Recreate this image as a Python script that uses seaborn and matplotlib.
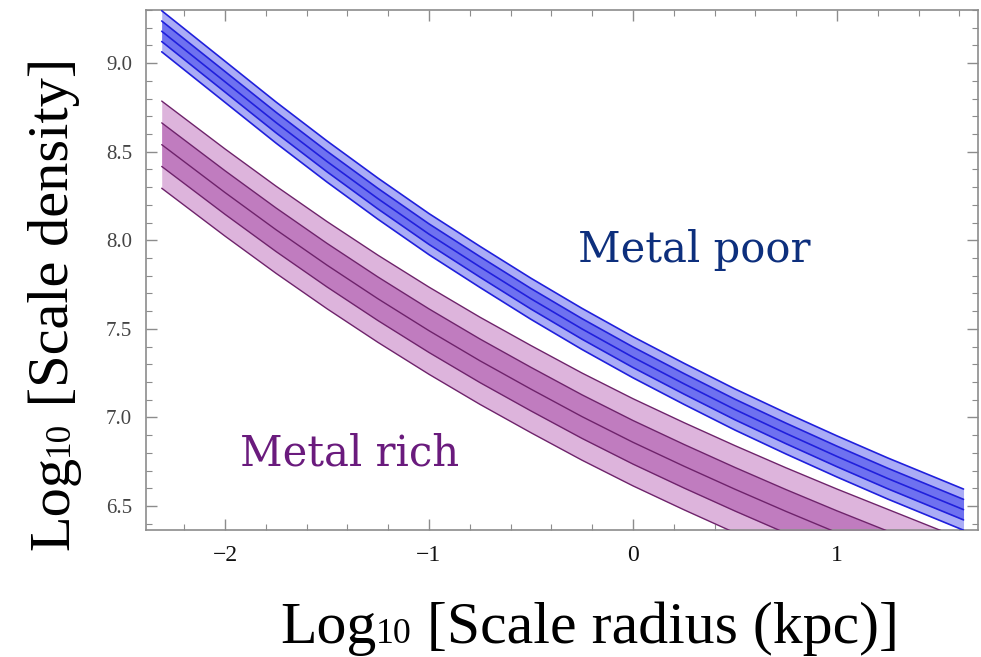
import numpy as np
import pandas as pd
import matplotlib
matplotlib.use("Agg")
import matplotlib.pyplot as plt
import seaborn as sns
from matplotlib.ticker import MultipleLocator

# log10 scale radius (kpc) sample points
log_radius = [-2.31, -2.0, -1.75, -1.5, -1.25, -1.0, -0.75, -0.5, -0.25,
              0.0, 0.25, 0.5, 0.75, 1.0, 1.25, 1.62]

# best-fit log10 scale density for each population
metal_poor_mid = [9.18, 8.895, 8.665, 8.445, 8.235, 8.035, 7.85, 7.67, 7.50,
                  7.34, 7.19, 7.045, 6.91, 6.78, 6.655, 6.48]
metal_rich_mid = [8.54, 8.27, 8.06, 7.86, 7.67, 7.49, 7.32, 7.16, 7.005,
                  6.86, 6.725, 6.595, 6.47, 6.35, 6.235, 6.065]

# 1-sigma widths of the relations (bands drawn at 1 and 2 sigma)
metal_poor_sigma = 0.058
metal_rich_sigma = 0.123

x_ticks = [-2, -1, 0, 1]
y_ticks = [6.5, 7.0, 7.5, 8.0, 8.5, 9.0]

sns.set_theme(style="ticks")
plt.rcParams["font.family"] = ["Liberation Serif", "DejaVu Serif"]
plt.rcParams["axes.grid"] = False

W, H = 981, 657
fig = plt.figure(figsize=(W / 100, H / 100), dpi=100)
ax = fig.add_axes([146 / W, 1 - 530 / H, (978 - 146) / W, (530 - 10) / H])

populations = [
    (metal_poor_mid, metal_poor_sigma, "#aaacf6", "#6e71f0", "#2020dc", 1.2),
    (metal_rich_mid, metal_rich_sigma, "#ddb4dc", "#c07cbf", "#6e236b", 1.0),
]

x = np.array(log_radius)
for mid, sig, c_out, c_in, c_line, lw in populations:
    mid = np.array(mid)
    ax.fill_between(x, mid - 2 * sig, mid + 2 * sig, color=c_out, lw=0, zorder=1)
    ax.fill_between(x, mid - sig, mid + sig, color=c_in, lw=0, zorder=2)
    lines = pd.DataFrame({
        "r": np.tile(x, 5),
        "rho": np.concatenate([mid + k * sig for k in (-2, -1, 0, 1, 2)]),
        "level": np.repeat([-2, -1, 0, 1, 2], len(x)),
    })
    sns.lineplot(data=lines, x="r", y="rho", units="level", estimator=None,
                 color=c_line, linewidth=lw, ax=ax, zorder=3, legend=False)

ax.set_xlim(-2.387, 1.691)
ax.set_ylim(6.365, 9.30)
ax.set_xticks(x_ticks)
ax.set_xticklabels([f"{t:g}".replace("-", "\u2212") for t in x_ticks])
ax.set_yticks(y_ticks)
ax.set_yticklabels([f"{t:.1f}" for t in y_ticks])
ax.xaxis.set_minor_locator(MultipleLocator(0.2))
ax.yaxis.set_minor_locator(MultipleLocator(0.1))
ax.set_xlabel("")
ax.set_ylabel("")

spine_c = "#8c8c8c"
for s in ax.spines.values():
    s.set_color(spine_c)
    s.set_linewidth(1.2)
ax.tick_params(which="both", direction="in", top=True, right=True, color=spine_c)
ax.tick_params(which="major", length=8, width=1.0)
ax.tick_params(which="minor", length=4.5, width=0.8)
ax.tick_params(axis="x", which="major", labelsize=17, labelcolor="#111111", pad=11)
ax.tick_params(axis="y", which="major", labelsize=15, labelcolor="#444444", pad=10)

ax.text(-0.27, 7.877, "Metal poor", fontsize=30, family="DejaVu Serif",
        color="#0d2f7d", ha="left", va="baseline")
ax.text(-1.926, 6.731, "Metal rich", fontsize=30, family="DejaVu Serif",
        color="#6a1b7d", ha="left", va="baseline")


def baseline_label(parts, x_px, y_px, rotation=0):
    """Write text pieces one after another on a shared baseline.

    x_px, y_px: start of the baseline in pixels from the top-left corner.
    """
    renderer = fig.canvas.get_renderer()
    px, py = x_px, H - y_px
    for text, size in parts:
        t = fig.text(px / W, py / H, text, fontsize=size, rotation=rotation,
                     rotation_mode="anchor", ha="left", va="baseline",
                     color="black")
        bb = t.get_window_extent(renderer)
        if rotation == 0:
            px += bb.width
        else:
            py += bb.height


baseline_label([("Log", 43), ("10", 43 * 0.6),
                (" [Scale radius (kpc)]", 43)], 280, 643)
baseline_label([("Log", 42), ("10", 42 * 0.6),
                (" [Scale density]", 42)], 68, 550, rotation=90)

fig.savefig("out.png", dpi=100, facecolor="white")
